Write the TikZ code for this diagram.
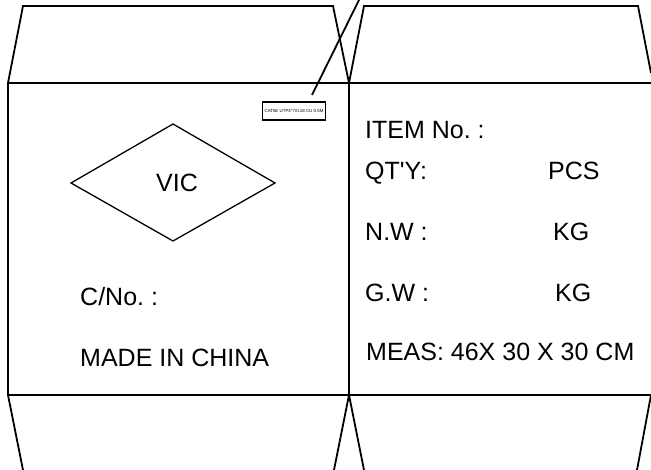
\documentclass[tikz,border=0pt]{standalone}
\usepackage{fontspec}
\setmainfont{Liberation Sans}
\frenchspacing
\tikzset{
  fold/.style={line width=1.8pt},
  label/.style={anchor=base west,inner sep=0pt,font=\fontsize{25}{25}\selectfont},
  tag/.style={draw,line width=1.6pt,minimum width=63pt,minimum height=18pt,inner sep=0pt,font=\fontsize{4.4}{5}\selectfont}
}
\begin{document}
\begin{tikzpicture}[x=1pt,y=-1pt]
    \useasboundingbox (0,0) rectangle (651,470);
    % box outline
    \draw[fold] (8,83) -- (651,83);
    \draw[fold] (8,395) -- (651,395);
    \draw[fold] (8,83) -- (8,395);
    \draw[fold] (349,83) -- (349,395);
    % top flaps
    \draw[fold] (8,83) -- (23,6) -- (333,6) -- (349,83);
    \draw[fold] (349,83) -- (364,6) -- (638,6) -- (651,73);
    % bottom flaps
    \draw[fold] (8,395) -- (23,470);
    \draw[fold] (349,395) -- (334,470);
    \draw[fold] (349,395) -- (364,470);
    \draw[fold] (651,395) -- (637,470);
    % tag and its leader
    \node[tag] (cable) at (294,111) {CAT5E UTP4*7/0.18 CU 0.5M};
    \coordinate (leadtop) at (359,0);
    \coordinate (leadend) at (312,95);
    \draw[fold] (leadtop) -- (leadend);
    % logo
    \draw[line width=1.3pt] (71,183) -- (173,124) -- (275,183) -- (173,241) -- cycle;
    \node[label] (logo) at (156,192) {VIC};
    % left panel
    \node[label] (cno) at (80,306) {C/No. :};
    \node[label] (made) at (80,367) {MADE IN CHINA};
    % right panel
    \node[label] (item) at (365,139) {ITEM No. :};
    \node[label] (qty) at (365,180) {QT\textquotesingle Y:};
    \node[label] (pcs) at (548,180) {PCS};
    \node[label] (nw) at (365,241) {N.W :};
    \node[label] (nwkg) at (553,241) {KG};
    \node[label] (gw) at (365,302) {G.W :};
    \node[label] (gwkg) at (555,302) {KG};
    \node[label] (meas) at (366,361) {MEAS: 46X 30 X 30 CM};
\end{tikzpicture}
\end{document}
